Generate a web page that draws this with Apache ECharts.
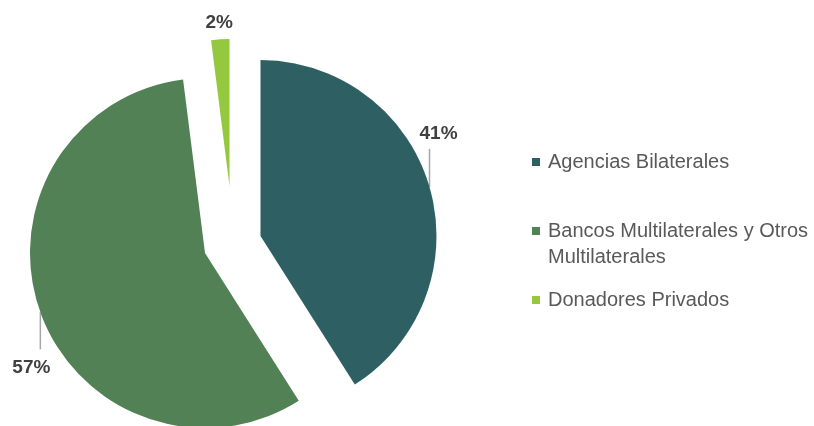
<!DOCTYPE html>
<html>
<head>
<meta charset="utf-8">
<script src="https://cdn.jsdelivr.net/npm/echarts@6/dist/echarts.min.js"></script>
<style>
  html, body { margin: 0; padding: 0; background: #fff; }
  #chart { width: 814px; height: 426px; }
</style>
</head>
<body>
<div id="chart"></div>
<script>
const categories = ['Agencias Bilaterales', 'Bancos Multilaterales y Otros Multilaterales', 'Donadores Privados']
const values = [41, 57, 2]
const colors = ['#2E6063', '#528156', '#95C83E']

// each slice sits in its own series so it can be pulled out separately
const slices = [
  { center: [260.5, 236], radius: 176, labelOffset: [9, -53], lineLen: 38 },
  { center: [205, 253], radius: 175, labelOffset: [-9, 55], lineLen: 37 },
  { center: [229.5, 186], radius: 147, labelOffset: [-1, -17], lineLen: 0 }
]

const chart = echarts.init(document.getElementById('chart'))
const total = values.reduce((sum, v) => sum + v, 0)

let start = 90
const series = categories.map((name, i) => {
  const sweep = values[i] / total * 360
  const s = slices[i]
  const item = {
    type: 'pie',
    center: s.center,
    radius: [0, s.radius],
    startAngle: start,
    endAngle: start - sweep,
    clockwise: true,
    silent: true,
    animation: false,
    avoidLabelOverlap: false,
    data: [{ name, value: values[i], itemStyle: { color: colors[i] } }],
    label: {
      show: true,
      position: 'outside',
      formatter: values[i] + '%',
      fontFamily: 'Liberation Sans',
      fontWeight: 'bold',
      fontSize: 19,
      color: '#404040'
    },
    labelLine: {
      show: s.lineLen > 0,
      lineStyle: { color: '#a6a6a6', width: 1.5 }
    },
    labelLayout: (p) => {
      let a
      if (p.labelLinePoints) {
        a = p.labelLinePoints[0]
      } else {
        a = [p.rect.x + p.rect.width / 2, p.rect.y]
      }
      const dir = s.labelOffset[1] < 0 ? -1 : 1
      const out = {
        x: a[0] + s.labelOffset[0],
        y: a[1] + s.labelOffset[1],
        align: 'center',
        verticalAlign: 'middle'
      }
      if (p.labelLinePoints) {
        const end = [a[0], a[1] + dir * s.lineLen]
        out.labelLinePoints = [a, end, end]
      }
      return out
    }
  }
  start -= sweep
  return item
})

const option = {
  backgroundColor: '#fff',
  legend: {
    orient: 'vertical',
    left: 532,
    top: 149,
    padding: 0,
    itemWidth: 8,
    itemHeight: 8,
    itemGap: 17,
    icon: 'rect',
    selectedMode: false,
    // wrapped entry: blank line on top keeps the marker level with the first line
    formatter: (name) => name.indexOf(' Otros ') > -1 ? '\n' + name.replace(' Otros ', ' Otros\n') : name,
    textStyle: {
      fontFamily: 'Liberation Sans',
      fontSize: 20,
      lineHeight: 26,
      color: '#595959',
      padding: [0, 0, 0, 3]
    },
    data: categories
  },
  series
}

chart.setOption(option)

window.addEventListener('resize', () => {
  chart.resize()
})
</script>
</body>
</html>
